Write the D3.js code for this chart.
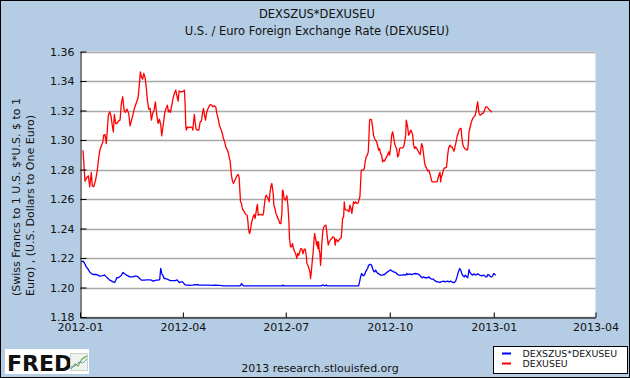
<!DOCTYPE html>
<html><head><meta charset="utf-8">
<script src="https://cdn.jsdelivr.net/npm/d3@7"></script>
<style>
body{margin:0;background:#fff;}
svg{display:block;}
text{font-family:"DejaVu Sans",sans-serif;}
</style>
</head><body>
<svg id="chart" width="630" height="378"></svg>
<script>
// ---------------- data ----------------
const titleLines = ["DEXSZUS*DEXUSEU", "U.S. / Euro Foreign Exchange Rate (DEXUSEU)"];
const yTitleLines = ["(Swiss Francs to  1 U.S. $*U.S. $ to  1", "Euro) , (U.S. Dollars to One Euro)"];
const yTicks = [1.18, 1.20, 1.22, 1.24, 1.26, 1.28, 1.30, 1.32, 1.34, 1.36];
const xTickLabels = ["2012-01", "2012-04", "2012-07", "2012-10", "2013-01", "2013-04"];
const seriesNames = ["DEXSZUS*DEXUSEU", "DEXUSEU"];
const footerText = "2013 research.stlouisfed.org";
const startDate = "2012-01-01";   // day 0 for the day offsets below

// DEXUSEU (red): days since 2012-01-01, and values
const redDays = [2.7,3.3,4.4,5.9,7.4,8.6,10.0,10.9,12.1,13.6,15.1,16.5,17.7,18.9,20.1,21.0,22.1,23.3,24.2,25.1,26.3,27.4,28.6,29.5,30.4,31.6,32.8,33.9,35.4,36.6,37.8,39.0,40.1,41.6,43.1,44.3,45.4,46.6,48.1,49.6,51.4,52.5,53.4,54.3,55.5,56.4,57.6,58.7,59.6,60.8,62.0,63.2,64.3,65.5,66.7,67.9,69.1,70.2,71.4,72.3,
73.8,75.0,76.1,77.3,78.2,79.1,80.0,81.2,82.3,83.5,84.7,85.6,86.8,87.7,88.8,90.3,91.5,92.4,93.0,93.6,94.1,95.0,96.2,97.7,99.2,99.8,100.6,101.2,101.8,102.7,103.9,105.1,106.3,107.4,108.3,109.2,110.1,111.0,111.9,112.7,113.9,115.1,116.3,117.5,118.6,120.1,121.0,122.2,123.4,124.6,125.7,126.9,128.1,129.0,129.9,131.0,131.9,132.8,133.4,134.0,134.9,135.8,136.6,137.8,138.7,139.9,140.8,141.4,142.0,142.8,143.7,144.6,145.5,146.7,147.9,148.5,149.0,149.9,150.5,
151.4,152.3,153.2,154.1,154.9,155.8,156.4,157.0,157.6,158.8,160.3,161.7,162.3,162.9,163.8,164.7,165.6,166.5,167.3,167.9,168.8,169.7,170.3,170.9,171.5,172.4,173.3,174.1,175.0,175.9,176.8,177.7,178.6,179.1,179.7,180.6,181.5,182.4,183.0,183.9,184.8,185.3,186.2,187.1,188.0,188.9,189.8,190.7,191.8,192.7,193.6,194.5,195.4,196.3,197.2,197.7,198.3,199.2,200.1,200.7,201.6,202.5,203.4,203.9,204.5,205.4,206.3,206.9,207.5,208.4,209.3,209.8,210.4,211.0,211.6,212.2,212.8,213.4,214.0,214.9,215.7,216.6,217.5,218.1,218.7,219.6,220.5,221.4,222.6,223.7,224.9,
225.8,226.4,227.3,228.1,229.0,230.2,231.1,231.7,232.3,233.2,233.8,234.3,235.2,236.1,237.0,237.9,238.8,239.7,240.5,241.1,242.0,242.9,243.8,245.0,245.9,246.7,247.6,248.2,248.8,249.7,250.6,251.5,252.3,253.2,254.1,255.0,255.6,256.2,257.1,257.9,258.8,259.7,260.6,261.5,262.4,263.3,264.1,265.0,265.9,266.8,267.7,268.6,269.5,270.4,271.2,272.1,273.0,273.9,274.8,275.7,276.5,277.4,278.3,279.2,280.1,281.0,281.9,282.7,283.6,284.5,285.4,286.3,287.2,288.1,288.6,289.2,289.8,290.7,291.6,292.5,293.4,294.3,295.1,296.0,296.9,297.8,298.7,
300.2,301.0,301.6,302.2,303.1,304.0,304.9,305.8,306.7,307.5,308.4,309.3,310.2,311.1,312.0,312.9,314.0,315.2,316.1,317.0,317.9,318.5,319.0,319.6,320.5,321.4,322.3,323.2,324.1,324.7,325.2,325.8,326.4,327.3,328.2,329.1,330.0,330.9,331.7,332.6,333.5,334.4,335.3,336.2,337.1,337.7,338.6,339.4,340.3,341.2,342.1,343.0,343.6,344.1,345.0,345.9,346.8,347.7,348.5,349.4,350.3,351.2,351.8,352.4,353.0,353.9,354.8,355.6,356.5,357.4,358.3,358.9,359.8,360.7,361.6,362.5,363.4,364.2];
const redValues = [1.2931,1.2852,1.2721,1.2744,1.2757,1.2683,1.2780,1.2689,1.2683,1.2721,1.2784,1.2875,1.2936,1.2961,1.2983,1.3033,1.3037,1.2976,1.3074,1.3168,1.3191,1.3164,1.3096,1.3055,1.3173,1.3112,1.3112,1.3128,1.3135,1.3248,1.3293,1.3202,1.3187,1.3209,1.3180,1.3096,1.3128,1.3164,1.3214,1.3248,1.3286,1.3376,1.3462,1.3428,1.3413,1.3451,1.3422,1.3349,1.3270,1.3209,1.3214,1.3135,1.3180,1.3202,1.3259,1.3168,1.3112,1.3141,1.3105,1.3028,
1.3112,1.3187,1.3214,1.3236,1.3191,1.3202,1.3187,1.3236,1.3281,1.3315,1.3338,1.3304,1.3263,1.3333,1.3327,1.3327,1.3331,1.3338,1.3236,1.3089,1.3067,1.3089,1.3083,1.3089,1.3083,1.3067,1.3135,1.3173,1.3123,1.3074,1.3067,1.3067,1.3123,1.3128,1.3180,1.3214,1.3168,1.3135,1.3180,1.3202,1.3225,1.3241,1.3236,1.3225,1.3232,1.3225,1.3180,1.3146,1.3096,1.3074,1.3049,1.3010,1.2983,1.2954,1.2938,1.2920,1.2886,1.2857,1.2807,1.2757,1.2721,1.2705,1.2721,1.2739,1.2757,1.2766,1.2744,1.2660,1.2581,1.2570,1.2531,1.2524,1.2509,1.2495,1.2490,1.2450,1.2400,1.2366,1.2377,
1.2423,1.2457,1.2479,1.2495,1.2468,1.2513,1.2547,1.2563,1.2490,1.2495,1.2495,1.2490,1.2502,1.2547,1.2603,1.2626,1.2615,1.2603,1.2581,1.2631,1.2683,1.2705,1.2671,1.2637,1.2558,1.2536,1.2502,1.2490,1.2468,1.2457,1.2434,1.2434,1.2502,1.2660,1.2653,1.2603,1.2592,1.2608,1.2622,1.2558,1.2445,1.2332,1.2276,1.2276,1.2298,1.2264,1.2242,1.2231,1.2197,1.2231,1.2219,1.2246,1.2264,1.2260,1.2228,1.2242,1.2260,1.2260,1.2219,1.2163,1.2151,1.2129,1.2106,1.2061,1.2095,1.2174,1.2242,1.2310,1.2366,1.2332,1.2287,1.2310,1.2264,1.2310,1.2253,1.2231,1.2151,1.2219,1.2310,1.2389,1.2411,1.2418,1.2423,1.2389,1.2344,1.2287,1.2310,1.2321,1.2332,1.2344,1.2339,
1.2287,1.2328,1.2321,1.2310,1.2321,1.2332,1.2337,1.2400,1.2468,1.2479,1.2581,1.2536,1.2524,1.2524,1.2524,1.2513,1.2558,1.2536,1.2502,1.2536,1.2581,1.2570,1.2581,1.2570,1.2570,1.2592,1.2615,1.2705,1.2796,1.2796,1.2796,1.2807,1.2857,1.2886,1.2897,1.2920,1.3022,1.3135,1.3141,1.3135,1.3089,1.3028,1.3010,1.2999,1.2988,1.2961,1.2931,1.2942,1.2909,1.2897,1.2852,1.2863,1.2857,1.2875,1.2886,1.2897,1.2920,1.2897,1.2954,1.3033,1.3055,1.3022,1.2976,1.2954,1.2942,1.2886,1.2897,1.2942,1.2947,1.2947,1.2947,1.2954,1.2988,1.3033,1.3135,1.3112,1.3089,1.3033,1.3044,1.3067,1.3055,1.3033,1.2965,1.2942,1.2954,1.2942,1.2931,
1.2909,1.2902,1.2942,1.2976,1.2954,1.2897,1.2841,1.2818,1.2807,1.2789,1.2796,1.2780,1.2750,1.2721,1.2716,1.2716,1.2716,1.2716,1.2721,1.2750,1.2773,1.2780,1.2716,1.2750,1.2766,1.2796,1.2811,1.2811,1.2814,1.2852,1.2897,1.2931,1.2954,1.2965,1.2954,1.2954,1.2938,1.2924,1.2954,1.2983,1.3022,1.3044,1.3067,1.3078,1.3078,1.3022,1.2970,1.2954,1.2942,1.2938,1.2931,1.2936,1.2988,1.3051,1.3083,1.3112,1.3135,1.3150,1.3157,1.3164,1.3191,1.3236,1.3259,1.3214,1.3180,1.3168,1.3173,1.3180,1.3180,1.3191,1.3214,1.3225,1.3225,1.3218,1.3209,1.3202,1.3196,1.3187];

// DEXSZUS*DEXUSEU (blue): days since 2012-01-01, and values
const blueDays = [1.2,2.7,4.1,5.6,7.1,8.6,10.0,11.5,14.5,15.9,17.4,18.9,21.8,23.3,24.8,26.3,27.7,29.2,30.7,31.6,32.5,33.6,35.1,36.6,38.1,39.5,41.0,42.5,44.0,46.9,48.4,49.9,51.4,52.8,54.3,57.3,58.7,61.7,63.2,64.6,66.1,67.6,69.1,70.5,71.4,72.3,73.5,74.4,75.6,77.0,78.5,80.0,84.4,85.9,86.8,87.9,89.1,90.3,91.5,92.7,93.9,96.2,97.4,99.8,101.8,103.0,104.2,105.4,113.9,116.3,119.8,123.4,126.9,141.1,142.3,142.8,143.4,144.6,178.6,179.5,180.4,213.4,214.3,215.4,216.3,217.8,218.7,246.4,
247.3,248.2,249.1,250.0,250.9,251.8,252.6,253.5,254.4,255.3,256.2,257.1,258.0,258.8,259.7,260.6,261.5,262.4,263.3,264.1,265.0,265.9,267.7,268.6,269.5,270.4,271.2,272.1,273.0,273.9,274.8,275.7,276.5,277.4,279.2,280.1,281.0,281.9,285.4,286.3,287.2,288.1,289.0,289.8,291.6,293.4,295.1,296.9,298.7,300.5,301.6,302.8,304.0,305.2,307.5,308.7,309.9,311.1,312.3,313.4,314.6,315.8,317.0,318.2,319.3,321.7,322.9,325.2,326.4,327.6,328.8,330.0,331.1,332.3,333.5,334.7,335.9,336.8,337.7,338.8,340.0,340.9,342.1,343.0,343.6,344.1,344.7,345.6,346.5,347.4,348.3,349.2,350.0,351.8,352.7,353.6,355.4,357.1,358.9,359.8,360.7,361.6,362.5,363.4,364.2,365.1,366.0,366.9,367.8];
const blueValues = [1.2174,1.2179,1.2163,1.2140,1.2124,1.2106,1.2095,1.2088,1.2088,1.2084,1.2077,1.2079,1.2084,1.2072,1.2061,1.2050,1.2045,1.2038,1.2034,1.2047,1.2066,1.2066,1.2072,1.2084,1.2102,1.2093,1.2084,1.2079,1.2072,1.2072,1.2077,1.2077,1.2072,1.2061,1.2050,1.2050,1.2052,1.2052,1.2050,1.2043,1.2047,1.2050,1.2050,1.2054,1.2129,1.2095,1.2079,1.2061,1.2061,1.2057,1.2052,1.2047,1.2047,1.2052,1.2043,1.2034,1.2038,1.2038,1.2032,1.2020,1.2016,1.2016,1.2014,1.2016,1.2020,1.2018,1.2020,1.2016,1.2016,1.2014,1.2016,1.2014,1.2011,1.2011,1.2016,1.2027,1.2020,1.2011,1.2011,1.2016,1.2011,1.2011,1.2016,1.2016,1.2011,1.2016,1.2011,1.2011,
1.2038,1.2072,1.2095,1.2084,1.2079,1.2088,1.2106,1.2118,1.2129,1.2151,1.2156,1.2156,1.2151,1.2129,1.2111,1.2106,1.2118,1.2106,1.2095,1.2095,1.2088,1.2084,1.2084,1.2088,1.2088,1.2095,1.2102,1.2106,1.2111,1.2115,1.2120,1.2113,1.2111,1.2106,1.2102,1.2095,1.2088,1.2084,1.2084,1.2088,1.2084,1.2084,1.2095,1.2088,1.2093,1.2088,1.2093,1.2095,1.2093,1.2084,1.2072,1.2066,1.2072,1.2066,1.2066,1.2072,1.2061,1.2057,1.2057,1.2050,1.2043,1.2038,1.2038,1.2034,1.2038,1.2043,1.2038,1.2043,1.2038,1.2043,1.2038,1.2034,1.2034,1.2043,1.2072,1.2106,1.2129,1.2118,1.2095,1.2079,1.2072,1.2084,1.2072,1.2066,1.2095,1.2122,1.2106,1.2095,1.2088,1.2084,1.2093,1.2088,1.2084,1.2093,1.2088,1.2084,1.2079,1.2084,1.2072,1.2072,1.2088,1.2084,1.2079,1.2072,1.2072,1.2079,1.2095,1.2088,1.2084];

// ---------------- drawing ----------------
const W = 630, H = 378;
const M = {left: 80, right: 595.5, top: 51.5, bottom: 317};
const bg = "#b4cde4";
const t0 = d3.utcParse("%Y-%m-%d")(startDate);
const dayToDate = d => new Date(t0.getTime() + d * 864e5);
const parseMonth = d3.utcParse("%Y-%m");

const svg = d3.select("#chart");
svg.append("rect").attr("x", 0).attr("y", 0).attr("width", W).attr("height", H).attr("fill", bg);

const x = d3.scaleUtc()
  .domain([parseMonth(xTickLabels[0]), parseMonth(xTickLabels[xTickLabels.length - 1])])
  .range([M.left, M.right]);
const y = d3.scaleLinear().domain([yTicks[0], yTicks[yTicks.length - 1]]).range([M.bottom, M.top]);

// plot background
svg.append("rect").attr("x", M.left).attr("y", M.top)
  .attr("width", M.right - M.left).attr("height", M.bottom - M.top).attr("fill", "#fff");

// gridlines
svg.append("g").selectAll("line").data(yTicks).join("line")
  .attr("x1", M.left).attr("x2", M.right)
  .attr("y1", d => Math.round(y(d)) + 0.5).attr("y2", d => Math.round(y(d)) + 0.5)
  .attr("stroke", "#a9a9a9").attr("stroke-width", 1.3);

// series lines
const redData = redDays.map((d, i) => ({date: dayToDate(d), value: redValues[i]}));
const blueData = blueDays.map((d, i) => ({date: dayToDate(d), value: blueValues[i]}));
const line = d3.line().x(d => x(d.date)).y(d => y(d.value));

svg.append("path").datum(redData).attr("d", line)
  .attr("fill", "none").attr("stroke", "#ff0000").attr("stroke-width", 1.3).attr("stroke-linejoin", "round");
svg.append("path").datum(blueData).attr("d", line)
  .attr("fill", "none").attr("stroke", "#0000ff").attr("stroke-width", 1.3).attr("stroke-linejoin", "round");

// axes
const yAxis = d3.axisLeft(y).tickValues(yTicks).tickFormat(d3.format(".2f"))
  .tickSizeInner(-6).tickSizeOuter(0).tickPadding(6);
const gy = svg.append("g").attr("transform", `translate(${M.left + 0.5},0)`).call(yAxis);
gy.select(".domain").attr("stroke", "#000");
gy.selectAll(".tick line").attr("stroke", "#000");
gy.selectAll("text").attr("font-size", 11).attr("font-family", "DejaVu Sans").attr("fill", "#111");

const xAxis = d3.axisBottom(x).tickValues(xTickLabels.map(parseMonth))
  .tickFormat(d3.utcFormat("%Y-%m")).tickSizeInner(-5).tickSizeOuter(0).tickPadding(6);
const gx = svg.append("g").attr("transform", `translate(0,${M.bottom + 0.5})`).call(xAxis);
gx.select(".domain").attr("stroke", "#000");
gx.selectAll(".tick line").attr("stroke", "#000");
gx.selectAll("text").attr("font-size", 11).attr("font-family", "DejaVu Sans").attr("fill", "#111");

// titles
svg.append("g").selectAll("text").data(titleLines).join("text")
  .attr("x", 317).attr("y", (d, i) => 18 + i * 16.5)
  .attr("text-anchor", "middle").attr("font-size", 11.5).attr("fill", "#111").text(d => d);

// y title
svg.append("g").selectAll("text").data(yTitleLines).join("text")
  .attr("transform", (d, i) => `translate(${19.5 + i * 14},296) rotate(-90)`)
  .attr("text-anchor", "start").attr("font-size", 11).attr("fill", "#111").text(d => d);

// footer
svg.append("text").attr("x", 320).attr("y", 372).attr("text-anchor", "middle")
  .attr("font-size", 11).attr("fill", "#111").text(footerText);

// legend
const lg = svg.append("g");
lg.append("rect").attr("x", 493.5).attr("y", 346.5).attr("width", 134).attr("height", 27)
  .attr("fill", "#fff").attr("stroke", "#000");
const legendColors = ["#0000ff", "#ff0000"];
seriesNames.forEach((name, i) => {
  lg.append("line").attr("x1", 502).attr("x2", 511).attr("y1", 353.5 + i * 10).attr("y2", 353.5 + i * 10)
    .attr("stroke", legendColors[i]).attr("stroke-width", 2);
  lg.append("text").attr("x", 522.5).attr("y", 357 + i * 10).attr("font-size", 9.4).attr("fill", "#111").text(name);
});

// FRED logo
const logo = svg.append("g");
logo.append("rect").attr("x", 5).attr("y", 349).attr("width", 84).attr("height", 25).attr("fill", "#fff");
logo.append("text").attr("x", 7).attr("y", 371).attr("font-family", "Liberation Sans, Arial, sans-serif")
  .attr("font-weight", "bold").attr("font-size", 22).attr("fill", "#111").text("FRED");
logo.append("rect").attr("x", 70.5).attr("y", 353.5).attr("width", 17).attr("height", 17)
  .attr("fill", "#eef3ee").attr("stroke", "#c8d0c8");
logo.append("path").attr("d", "M71,369 L75,364 L78,366 L82,359 L87,356")
  .attr("fill", "none").attr("stroke", "#6aa84f").attr("stroke-width", 1.2);
logo.append("path").attr("d", "M71,367 L75,366 L79,362 L83,363 L87,359")
  .attr("fill", "none").attr("stroke", "#7a9cc6").attr("stroke-width", 1);

// outer border
svg.append("rect").attr("x", 0.5).attr("y", 0.5).attr("width", W - 1).attr("height", H - 1)
  .attr("fill", "none").attr("stroke", "#000");
</script>
</body></html>
